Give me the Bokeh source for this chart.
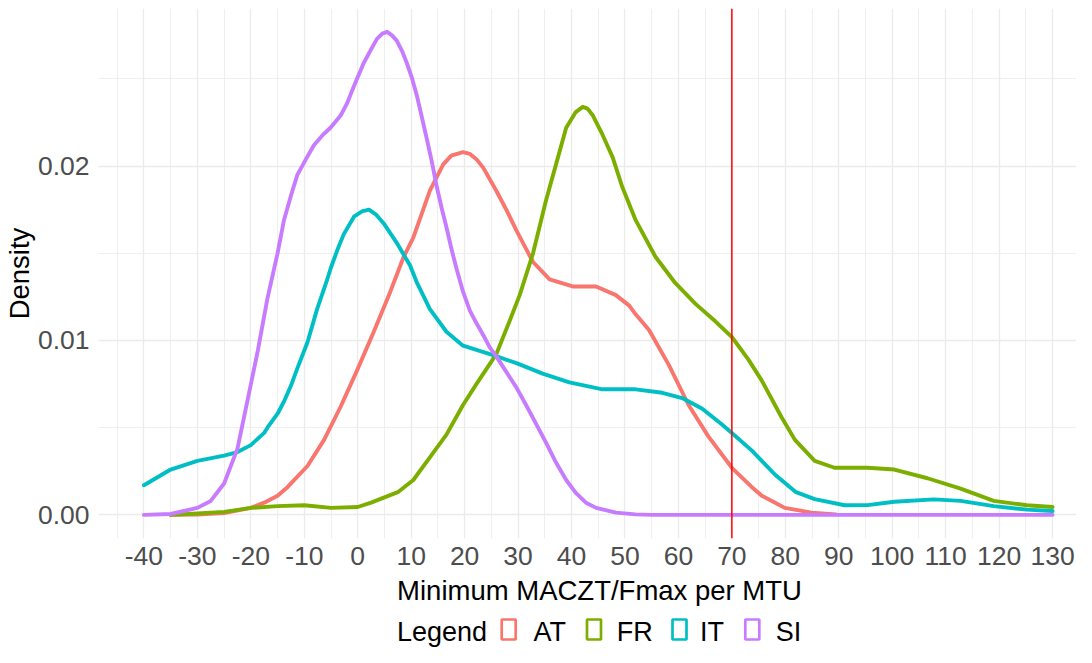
from bokeh.plotting import figure
from bokeh.layouts import column
from bokeh.models import Range1d, FixedTicker, PrintfTickFormatter, Span, ColumnDataSource
from bokeh.core.properties import value
from bokeh.embed import file_html
from bokeh.resources import INLINE

# ---------------- data ----------------
countries = ["AT", "FR", "IT", "SI"]
colors = ["#F8766D", "#7CAE00", "#00BFC4", "#C77CFF"]

at_x = [-35, -30, -25, -20, -17.5, -15, -13.1, -9.4, -6.3, -3.2, -0.1, 3, 6.1, 8.6, 10.4, 13.5, 16, 17.5,
        19.7, 21, 22.2, 23.5, 25.9, 27.8, 29.7, 32.8, 35.9, 40.2, 44.6, 48.3, 50.8, 52, 54.5, 58.2, 61.9,
        65.6, 70, 73.7, 75.6, 78.1, 79.9, 84.9, 89.5]
at_y = [0, 0.00002, 0.0001, 0.0004, 0.0007, 0.0011, 0.0016, 0.0028, 0.0043, 0.0062, 0.0083, 0.0105,
        0.0128, 0.0148, 0.0159, 0.0186, 0.0201, 0.0206, 0.0208, 0.0207, 0.0204, 0.0199, 0.0186, 0.0175,
        0.0163, 0.0145, 0.0135, 0.0131, 0.0131, 0.0126, 0.0120, 0.0115, 0.0106, 0.0086, 0.0063, 0.0045,
        0.0027, 0.0016, 0.0011, 0.0007, 0.0004, 0.00013, 0.00003]

fr_x = [-35, -30, -25, -20, -15, -10, -5, 0, 2.5, 5, 7.5, 10.4, 13.5, 16.6, 19.7, 22.2, 25.9, 28.4, 30.3,
        32.8, 35.2, 37.1, 39, 40.8, 42.1, 43, 44, 45.8, 47.7, 49.5, 52, 55.7, 59.4, 63.2, 66.9, 70, 73.1,
        75.6, 79.3, 81.8, 85.5, 89.2, 95.4, 100.4, 106.6, 112.8, 119, 125.2, 130]
fr_y = [0, 0.00008, 0.00017, 0.0004, 0.0005, 0.00055, 0.0004, 0.00045, 0.0007, 0.0010, 0.0013, 0.0020,
        0.0033, 0.0046, 0.0063, 0.0075, 0.0092, 0.0111, 0.0126, 0.0150, 0.0180, 0.0201, 0.0222, 0.0231,
        0.0234, 0.0233, 0.0229, 0.0218, 0.0205, 0.0188, 0.0169, 0.0148, 0.0133, 0.0121, 0.0111, 0.0102,
        0.0089, 0.0077, 0.0056, 0.0043, 0.0031, 0.0027, 0.0027, 0.0026, 0.0021, 0.0015, 0.0008, 0.00055,
        0.00045]

it_x = [-40, -35, -30, -25, -22.5, -20, -17.5, -16.9, -15, -13.8, -12.5, -11.3, -9.4, -7.6, -5.7, -5.1,
        -3.8, -2.6, -0.7, 0.8, 2.1, 3.5, 4.9, 7.3, 9.8, 11.1, 13.5, 16.6, 19.7, 22.8, 25.9, 29.7, 34.6,
        39.6, 45.8, 52, 57, 60.7, 64.4, 68.1, 70, 73.7, 78.1, 82, 85.5, 91.1, 95.4, 100.4, 107.8, 112.8,
        119, 125.2, 130]
it_y = [0.0017, 0.0026, 0.0031, 0.0034, 0.0036, 0.0040, 0.0047, 0.0050, 0.0058, 0.0065, 0.0074, 0.0084,
        0.0099, 0.0118, 0.0135, 0.0141, 0.0152, 0.0161, 0.0171, 0.0174, 0.0175, 0.0172, 0.0167, 0.0156,
        0.0143, 0.0133, 0.0118, 0.0105, 0.0097, 0.0094, 0.0091, 0.0087, 0.0081, 0.0076, 0.0072, 0.0072,
        0.0070, 0.0067, 0.0061, 0.0052, 0.0047, 0.0037, 0.0023, 0.0013, 0.0009, 0.00055, 0.00056,
        0.00075, 0.00089, 0.0008, 0.0005, 0.0003, 0.00022]

si_x = [-40, -35, -30, -27.5, -25, -22.5, -20.6, -18.7, -16.9, -15, -13.8, -12.5, -11.3, -9.5, -8.2, -6.5,
        -5.1, -3.2, -2, -0.7, 1.1, 2.5, 3.6, 4.6, 5.5, 6.4, 7.3, 8.3, 9.2, 10.2, 11.1, 12, 12.9, 13.9, 14.8,
        15.7, 16.6, 17.5, 18.5, 19.7, 21, 22.2, 23.5, 24.7, 25.9, 27.8, 29.7, 31.5, 33.4, 35.3, 37.1, 39,
        40.8, 42.7, 44.6, 48.3, 52, 55, 60, 70, 80, 90, 100, 110, 120, 130]
si_y = [0, 0.00005, 0.0004, 0.0008, 0.0018, 0.0038, 0.0066, 0.0094, 0.0124, 0.0150, 0.0169, 0.0183,
        0.0195, 0.0205, 0.0212, 0.0218, 0.0222, 0.0229, 0.0236, 0.0246, 0.0259, 0.0267, 0.0273, 0.0276,
        0.0277, 0.0275, 0.0272, 0.0266, 0.0259, 0.0250, 0.0240, 0.0228, 0.0216, 0.0202, 0.0188, 0.0176,
        0.0165, 0.0153, 0.0141, 0.0128, 0.0117, 0.0110, 0.0103, 0.0096, 0.0091, 0.0082, 0.0073, 0.0063,
        0.0052, 0.0041, 0.0030, 0.0020, 0.00126, 0.0007, 0.0004, 0.00013, 0.00003, 0, 0, 0, 0, 0, 0, 0,
        0, 0]

series_x = [at_x, fr_x, it_x, si_x]
series_y = [at_y, fr_y, it_y, si_y]

x_ticks = list(range(-40, 131, 10))
x_minor = list(range(-45, 136, 10))
y_ticks = [0.0, 0.01, 0.02]
y_minor = [0.005, 0.015, 0.025]
threshold = 70

x_title = "Minimum MACZT/Fmax per MTU"
y_title = "Density"
legend_title = "Legend"

FONT = "Liberation Sans"
GRID = "#EBEBEB"

W = 1076          # total layout width
H_MAIN = 573      # canvas y 0 .. 573
H_FOOT = 74       # canvas y 573 .. 647
LEFT = 98

# ---------------- main panel ----------------
p = figure(width=W, height=H_MAIN, output_backend="svg", toolbar_location=None,
           x_range=Range1d(-48.5, 134.48), y_range=Range1d(-0.001356, 0.02904),
           min_border_left=LEFT, min_border_right=0, min_border_top=8, min_border_bottom=35)
p.outline_line_color = None
p.background_fill_color = "white"
p.border_fill_color = "white"

p.xaxis.ticker = FixedTicker(ticks=x_ticks, minor_ticks=x_minor)
p.xaxis.major_label_overrides = {t: str(t) for t in x_ticks}
p.yaxis.ticker = FixedTicker(ticks=y_ticks, minor_ticks=y_minor)
p.yaxis.formatter = PrintfTickFormatter(format="%.2f")

for ax in (p.xaxis, p.yaxis):
    ax.axis_line_color = None
    ax.major_tick_line_color = None
    ax.minor_tick_line_color = None
    ax.major_tick_out = 0
    ax.major_tick_in = 0
    ax.major_label_text_font = FONT
    ax.major_label_text_font_size = "26.5px"
    ax.major_label_text_color = "#4D4D4D"
p.xaxis.major_label_standoff = 4
p.yaxis.major_label_standoff = 5
p.yaxis.axis_label = y_title
p.yaxis.axis_label_text_font = FONT
p.yaxis.axis_label_text_font_size = "27.5px"
p.yaxis.axis_label_text_font_style = "normal"
p.yaxis.axis_label_text_color = "black"
p.yaxis.axis_label_standoff = 0

for g in (p.xgrid, p.ygrid):
    g.grid_line_color = GRID
    g.grid_line_width = 1.3
    g.minor_grid_line_color = GRID
    g.minor_grid_line_width = 0.8

for xs, ys, c in zip(series_x, series_y, colors):
    p.line(xs, ys, line_color=c, line_width=3.9, line_join="round", line_cap="round")

p.add_layout(Span(location=threshold, dimension="height", line_color="#FF0000", line_width=1.5))

# ---------------- footer: x title + legend (coordinates = canvas pixels) ----------------
f = figure(width=W, height=H_FOOT, output_backend="svg", toolbar_location=None,
           x_range=Range1d(LEFT, W), y_range=Range1d(H_MAIN + H_FOOT, H_MAIN),
           min_border_left=LEFT, min_border_right=0, min_border_top=0, min_border_bottom=0)
f.axis.visible = False
f.grid.visible = False
f.outline_line_color = None
f.border_fill_color = "white"
f.background_fill_color = "white"

f.text(x=[599], y=[589.5], text=[x_title], text_font=value(FONT), text_font_size="27.5px",
       text_color="black", text_align="center", text_baseline="middle")
f.text(x=[396.5], y=[631], text=[legend_title], text_font=value(FONT), text_font_size="27px",
       text_color="black", text_align="left", text_baseline="middle")

key_x = [508.2, 593.5, 679, 751.8]
label_x = [533, 616.2, 699.5, 775.2]
keys = ColumnDataSource(dict(x=key_x, y=[629] * 4, c=colors))
f.rect(x="x", y="y", width=14, height=20, source=keys, fill_color=None,
       line_color="c", line_width=2.7)
f.text(x=label_x, y=[631] * 4, text=countries, text_font=value(FONT), text_font_size="27px",
       text_color="black", text_align="left", text_baseline="middle")

layout = column(p, f, spacing=0)
open("out.html", "w").write(file_html(layout, INLINE))
